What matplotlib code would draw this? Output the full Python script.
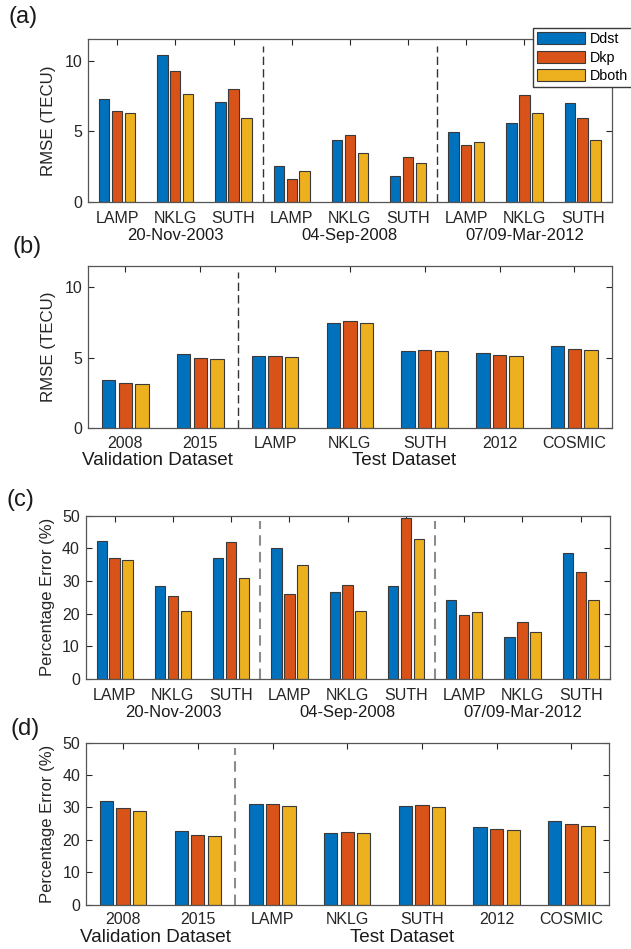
import numpy as np
import matplotlib
matplotlib.use("Agg")
import matplotlib.pyplot as plt
from matplotlib import transforms

plt.rcParams['font.family'] = ['Liberation Sans', 'DejaVu Sans']

# data
series = ["Ddst", "Dkp", "Dboth"]
colors = ["#0072BD", "#D95319", "#EDB120"]

stations = ["LAMP", "NKLG", "SUTH"] * 3
storms = ["20-Nov-2003", "04-Sep-2008", "07/09-Mar-2012"]
overall_cats = ["2008", "2015", "LAMP", "NKLG", "SUTH", "2012", "COSMIC"]
overall_groups = ["Validation Dataset", "Test Dataset"]

rmse_storm = {
    "Ddst":  [7.32, 10.45, 7.06, 2.52, 4.42, 1.84, 4.99, 5.62, 7.01],
    "Dkp":   [6.47, 9.27, 8.02, 1.62, 4.75, 3.18, 4.07, 7.60, 5.98],
    "Dboth": [6.33, 7.67, 5.93, 2.19, 3.44, 2.75, 4.28, 6.28, 4.40],
}
rmse_overall = {
    "Ddst":  [3.41, 5.28, 5.14, 7.48, 5.47, 5.33, 5.83],
    "Dkp":   [3.22, 5.00, 5.09, 7.62, 5.57, 5.21, 5.64],
    "Dboth": [3.10, 4.93, 5.02, 7.48, 5.45, 5.14, 5.54],
}
perr_storm = {
    "Ddst":  [42.1, 28.5, 37.0, 40.2, 26.7, 28.6, 24.3, 13.0, 38.5],
    "Dkp":   [37.0, 25.3, 42.0, 26.1, 28.9, 49.2, 19.6, 17.3, 32.7],
    "Dboth": [36.4, 20.9, 30.9, 35.0, 20.8, 43.0, 20.6, 14.4, 24.2],
}
perr_overall = {
    "Ddst":  [31.9, 22.6, 31.2, 22.2, 30.5, 23.9, 25.7],
    "Dkp":   [29.8, 21.5, 31.1, 22.5, 30.9, 23.3, 24.8],
    "Dboth": [28.9, 21.2, 30.6, 22.0, 30.3, 23.1, 24.2],
}

fig = plt.figure(figsize=(6.31, 9.49), dpi=100)

# axes boxes [left, bottom, width, height] in figure fraction
boxes = [
    [0.1395, 0.7871, 0.830, 0.1718],
    [0.1395, 0.5490, 0.830, 0.1707],
    [0.1355, 0.2845, 0.831, 0.1721],
    [0.1358, 0.0467, 0.829, 0.1707],
]

edge = "#3a3a3a"
width = 0.178
offsets = [-0.222, 0.0, 0.222]
tick_fs = 11.5


def draw_bars(ax, data, cats, xpad=6.5):
    x = np.arange(1, len(cats) + 1)
    handles = []
    for i, s in enumerate(series):
        h = ax.bar(x + offsets[i], data[s], width, color=colors[i],
                   edgecolor=edge, linewidth=0.8, label=s, zorder=2)
        handles.append(h)
    ax.set_xlim(0.5, len(cats) + 0.5)
    ax.set_xticks(x)
    ax.set_xticklabels(cats)
    ax.tick_params(direction="in", top=True, right=True, length=4,
                   labelsize=tick_fs, colors="#262626")
    ax.tick_params(axis="x", pad=xpad)
    ax.tick_params(axis="y", pad=4)
    for sp in ax.spines.values():
        sp.set_color("#555555")
        sp.set_linewidth(0.9)
    return handles


def group_labels(ax, xs, texts, dy, size):
    tr = transforms.blended_transform_factory(ax.transData, ax.transAxes)
    tr = transforms.offset_copy(tr, fig=fig, y=-dy, units="dots")
    for x, t in zip(xs, texts):
        ax.text(x, 0, t, transform=tr, ha="center", va="center",
                fontsize=size, color="#1a1a1a")


def vsep(ax, xs, color, lw, dash, top):
    for x in xs:
        ax.axvline(x, ymin=0, ymax=top, color=color, lw=lw,
                   linestyle=(0, dash), zorder=1)


# (a)
ax = fig.add_axes(boxes[0])
handles = draw_bars(ax, rmse_storm, stations)
ax.set_ylim(0, 11.55)
ax.set_yticks([0, 5, 10])
ax.set_ylabel("RMSE (TECU)", fontsize=12.2, color="#262626")
ax.yaxis.set_label_coords(-0.061, 0.5)
vsep(ax, [3.5, 6.5], "#333333", 1.0, (6, 3), 0.957)
group_labels(ax, [2, 5, 8], storms, 33, 12)

fig.legend(handles, series, loc="upper left",
           bbox_to_anchor=(533 / 631, 1 - 28 / 949),
           bbox_transform=fig.transFigure, borderaxespad=0,
           fontsize=10.3, handlelength=3.3, handleheight=0.9,
           handletextpad=0.35, labelspacing=0.3, borderpad=0.3,
           fancybox=False, framealpha=1, edgecolor="#3a3a3a")

# (b)
ax = fig.add_axes(boxes[1])
draw_bars(ax, rmse_overall, overall_cats, xpad=5.5)
ax.set_ylim(0, 11.5)
ax.set_yticks([0, 5, 10])
ax.set_ylabel("RMSE (TECU)", fontsize=12.2, color="#262626")
ax.yaxis.set_label_coords(-0.061, 0.5)
vsep(ax, [2.5], "#333333", 1.0, (6, 3), 0.963)
group_labels(ax, [1.43, 4.73], overall_groups, 33, 13.6)

# (c)
ax = fig.add_axes(boxes[2])
draw_bars(ax, perr_storm, stations)
ax.set_ylim(0, 50)
ax.set_yticks([0, 10, 20, 30, 40, 50])
ax.set_ylabel("Percentage Error (%)", fontsize=12, color="#262626")
ax.yaxis.set_label_coords(-0.058, 0.5)
vsep(ax, [3.5, 6.5], "#8c8c8c", 1.5, (5, 3), 0.965)
group_labels(ax, [2, 5, 8], storms, 33, 12)

# (d)
ax = fig.add_axes(boxes[3])
draw_bars(ax, perr_overall, overall_cats, xpad=5)
ax.set_ylim(0, 50)
ax.set_yticks([0, 10, 20, 30, 40, 50])
ax.set_ylabel("Percentage Error (%)", fontsize=12, color="#262626")
ax.yaxis.set_label_coords(-0.058, 0.5)
vsep(ax, [2.5], "#8c8c8c", 1.5, (5, 3), 0.965)
group_labels(ax, [1.43, 4.73], overall_groups, 33, 13.6)

# panel labels
for lab, x, y in [("(a)", 8, 17), ("(b)", 13, 247), ("(c)", 7, 500), ("(d)", 10, 729)]:
    fig.text(x / 631, 1 - y / 949, lab, fontsize=17, ha="left", va="center",
             color="#1a1a1a")

fig.savefig("out.png", dpi=100)
